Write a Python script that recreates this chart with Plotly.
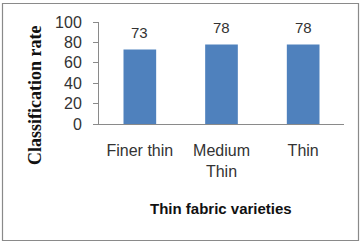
import plotly.graph_objects as go

categories = ["Finer thin", "Medium<br>Thin", "Thin"]
values = [73, 78, 78]
y_ticks = [0, 20, 40, 60, 80, 100]

fig = go.Figure()
fig.add_trace(go.Bar(
    x=categories, y=values,
    marker=dict(color="#4F81BD", line=dict(width=0)),
    cliponaxis=False, hoverinfo="skip",
))

for c, v in zip(categories, values):
    fig.add_annotation(x=c, y=v, text=str(v), showarrow=False, yshift=17,
                       yanchor="middle", xanchor="center",
                       font=dict(family="Liberation Sans", size=15, color="#333"))

W, H = 364, 243
ml, mr, mt, mb = 99, 20, 22, 119
pw, ph = W - ml - mr, H - mt - mb

def px(x):
    return (x - ml) / pw

def py(y):
    return (H - mb - y) / ph

fig.add_shape(type="rect", xref="paper", yref="paper",
              x0=px(2.5), x1=px(358.5), y0=py(240.5), y1=py(3.5),
              line=dict(color="#8a8a8a", width=1.2), fillcolor="rgba(0,0,0,0)")

fig.add_annotation(xref="paper", yref="paper", x=px(221), y=py(208),
                   text="<b>Thin fabric varieties</b>", showarrow=False,
                   font=dict(family="Liberation Sans", size=15, color="#111"),
                   xanchor="center", yanchor="middle")
fig.add_annotation(xref="paper", yref="paper", x=px(35), y=py(96),
                   text="<b>Classification rate</b>", showarrow=False, textangle=-90,
                   font=dict(family="Liberation Serif", size=18, color="#111"),
                   xanchor="center", yanchor="middle")

fig.update_layout(
    width=W, height=H,
    margin=dict(l=ml, r=mr, t=mt, b=mb, autoexpand=False),
    paper_bgcolor="white", plot_bgcolor="white",
    bargap=0.6, showlegend=False,
    font=dict(family="Liberation Sans", size=16, color="#333"),
    xaxis=dict(showline=True, linecolor="#8a8a8a", linewidth=1, ticks="",
               tickfont=dict(size=16), showgrid=False, automargin=False,
               ticklabelstandoff=12),
    yaxis=dict(range=[0, 100], tickvals=y_ticks, showline=True, linecolor="#8a8a8a",
               linewidth=1, ticks="outside", ticklen=5, tickcolor="#8a8a8a",
               showgrid=False, zeroline=False, tickfont=dict(size=16),
               automargin=False, ticklabelstandoff=8),
)

fig.write_html("out.html", config={"displayModeBar": False},
               post_script="document.body.style.margin='0';document.body.style.overflow='hidden';")
